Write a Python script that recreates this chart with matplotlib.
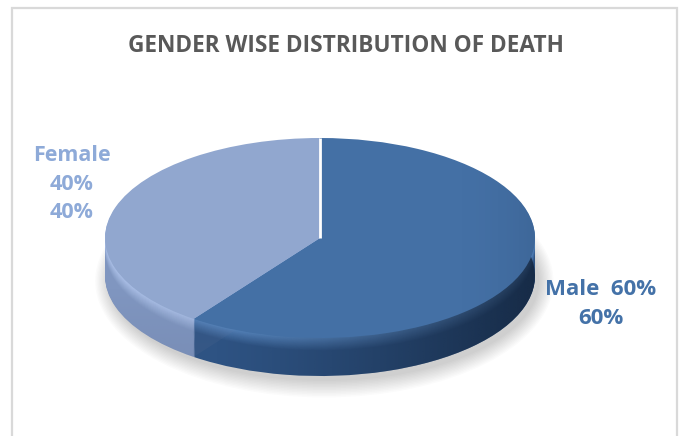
import numpy as np
import matplotlib.pyplot as plt
from matplotlib.colors import to_rgb
from matplotlib.patches import Ellipse, Rectangle

# data
genders = ["Male", "Female"]
shares = [60, 40]
title = "GENDER WISE DISTRIBUTION OF DEATH"

top_colors = ["#4470a5", "#91a7cf"]
side_top = ["#5583bb", "#aabfe6"]
side_bottom = ["#2e5383", "#8096c0"]
label_colors = ["#4472a8", "#8eaad8"]

W, H = 682, 436
cx, cy = 320, 238      # top face center (px from top)
a, b = 215, 100        # ellipse half axes in px
depth = 0.38           # side height in units of b

fig = plt.figure(figsize=(W / 100, H / 100), dpi=100)
ax = fig.add_axes([0, 0, 1, 1])
ax.axis("off")

# chart border
fig.patches.append(Rectangle((12 / W, -0.05), (677 - 12) / W, 1.05 - 8 / H,
                             transform=fig.transFigure, fill=False,
                             edgecolor="#d9d9d9", linewidth=1.6))

# soft shadow below the pie
for i in range(12):
    ax.add_patch(Ellipse((0.02, -depth - 0.05), 2.0 + 0.012 * i, 2.0 + 0.03 * i,
                         facecolor="#000000", alpha=0.015, linewidth=0))


def mix(c1, c2, t):
    c1, c2 = np.array(to_rgb(c1)), np.array(to_rgb(c2))
    return tuple(c1 + (c2 - c1) * t)


start = 90
n_layers = 40
bottom_wedges = None
for k in range(n_layers, 0, -1):
    t = min(1.0, (k / n_layers) / 0.35)
    cols = [mix(side_top[i], side_bottom[i], t) for i in range(2)]
    w, _ = ax.pie(shares, colors=cols, startangle=start, counterclock=False,
                  center=(0, -depth * k / n_layers), radius=1,
                  wedgeprops=dict(linewidth=0), frame=True)
    if bottom_wedges is None:
        bottom_wedges = w

# horizontal darkening of the male side
xs = np.linspace(0, 1, 256)
grad = np.zeros((2, 256, 4))
grad[..., :3] = to_rgb("#0f1e33")
grad[..., 3] = np.clip((xs - 0.25) / 0.75, 0, 1) ** 1.2 * 0.75
im = ax.imshow(grad, extent=(-1.0, 1.0, -1.5, 0.2), origin="lower",
               interpolation="bilinear", zorder=2)
im.set_clip_path(bottom_wedges[0])

# female side slightly darker at bottom
ys = np.linspace(0, 1, 256)
grad2 = np.zeros((256, 2, 4))
grad2[..., :3] = to_rgb("#5d6f93")
grad2[..., 3] = (np.clip((0.6 - ys) / 0.6, 0, 1) * 0.25)[:, None]
im2 = ax.imshow(grad2, extent=(-1.0, 0.0, -1.4, 0.1), origin="lower",
                interpolation="bilinear", zorder=2)
im2.set_clip_path(bottom_wedges[1])

# top face
top, _ = ax.pie(shares, colors=top_colors, startangle=start, counterclock=False,
                center=(0, 0), radius=1, wedgeprops=dict(linewidth=0), frame=True)
for w in top:
    w.set_zorder(3)

# slight darkening near the right rim of the top face
grad3 = np.zeros((2, 256, 4))
grad3[..., :3] = to_rgb("#1c3556")
grad3[..., 3] = np.clip((xs - 0.8) / 0.2, 0, 1) ** 2 * 0.15
im3 = ax.imshow(grad3, extent=(-1.0, 1.0, -1.0, 1.0), origin="lower",
                interpolation="bilinear", zorder=3.5)
im3.set_clip_path(top[0])

# white split at the start angle
ang = np.deg2rad(start)
ax.plot([0, np.cos(ang)], [0, np.sin(ang)], color="white", lw=2, zorder=4,
        solid_capstyle="butt")
ax.set_aspect("auto")
ax.set_xlim(-cx / a, (W - cx) / a)
ax.set_ylim(-(H - cy) / b, cy / b)

font = "Open Sans"
fig.text(346 / W, 1 - 46 / H, title, ha="center", va="center", fontsize=16.3,
         fontweight="bold", color="#595959", family=font)

fig.text(72 / W, 1 - 184 / H, f"{genders[1]}\n{shares[1]}%\n{shares[1]}%",
         ha="center", va="center", fontsize=15.5, fontweight="bold",
         color=label_colors[1], family=font, linespacing=1.45)
fig.text(601 / W, 1 - 304 / H, f"{genders[0]}  {shares[0]}%\n{shares[0]}%",
         ha="center", va="center", fontsize=16, fontweight="bold",
         color=label_colors[0], family=font, linespacing=1.45)

fig.savefig("out.png", dpi=100)
